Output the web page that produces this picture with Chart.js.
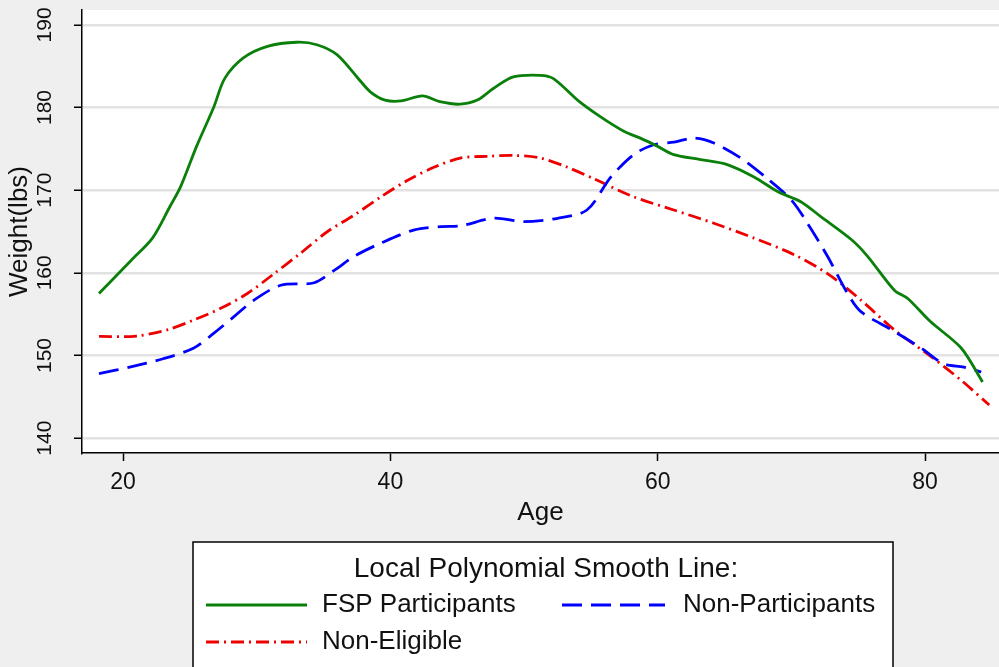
<!DOCTYPE html>
<html>
<head>
<meta charset="utf-8">
<script src="https://cdn.jsdelivr.net/npm/chart.js@4.4.1/dist/chart.umd.min.js"></script>
<style>
  body { margin: 0; background: #efefef; }
  canvas { display: block; }
</style>
</head>
<body>
<canvas id="weight chart" width="999" height="667"></canvas>
<script>
// values
var fspAge = [18.2, 20.6, 22.2, 23.5, 24.3, 25.5, 26.8, 27.6, 29, 30.8, 33, 34.5, 36, 37.5, 38.5, 39.6, 40.8, 42.4, 43.7, 45.2, 46.5, 47.7, 49.2, 51.2, 52.2, 54, 55.7, 57.5, 58.7, 60, 61.2, 63.2, 65.2, 67.2, 69, 70.7, 72.2, 74.5, 75.7, 77.7, 78.7, 80.4, 82.7, 84.3];
var fspWeight = [157.5, 161.5, 164.2, 168, 170.4, 175.3, 180.1, 183.5, 186, 187.4, 187.9, 187.6, 186.4, 183.7, 181.9, 180.9, 180.8, 181.4, 180.7, 180.4, 180.9, 182.3, 183.7, 183.9, 183.5, 180.9, 178.9, 177.1, 176.3, 175.3, 174.3, 173.7, 173.1, 171.6, 169.8, 168.6, 166.8, 164, 162, 157.9, 156.9, 154.1, 150.9, 146.8];

var nonPartAge = [18.2, 20.5, 23, 25.3, 26.8, 28.3, 29.8, 31.8, 34.3, 35.8, 37.3, 39.3, 41.8, 43.8, 45.3, 47.7, 50, 52.5, 54.7, 56.5, 58.2, 59.7, 61.2, 62.7, 64.2, 66.2, 68.2, 70, 71.2, 72.7, 74.2, 75.2, 77.5, 79.7, 81.4, 82.9, 84.2];
var nonPartWeight = [147.8, 148.6, 149.6, 150.9, 152.7, 154.7, 156.7, 158.5, 158.8, 160.3, 162, 163.6, 165.2, 165.6, 165.7, 166.6, 166.2, 166.6, 167.6, 171.6, 174.3, 175.5, 175.8, 176.3, 175.7, 173.9, 171.4, 168.8, 166, 162, 157.5, 155.3, 153.1, 150.9, 149, 148.6, 148];

var nonEligAge = [18.2, 21, 23.3, 25.3, 27.3, 29.3, 31.3, 33.3, 35.3, 37.3, 39.3, 41.3, 43.3, 45.3, 47.3, 49.2, 51.2, 53.2, 55.2, 58.2, 61.2, 64.2, 67.2, 70.2, 72.7, 75.2, 77.7, 80.5, 82.7, 84.8];
var nonEligWeight = [152.3, 152.35, 153.1, 154.3, 155.7, 157.5, 159.9, 162.4, 165, 167, 169.2, 171.2, 172.8, 173.9, 174.1, 174.2, 173.9, 172.8, 171.4, 169.2, 167.6, 166, 164.2, 162.2, 159.9, 156.7, 153.1, 149.8, 147, 144];

var xTicks = [20, 40, 60, 80];
var yTicks = [140, 150, 160, 170, 180, 190];

var legendTitle = 'Local Polynomial Smooth Line:';

function toPoints(xs, ys) {
    return xs.map(function (x, i) { return {x: x, y: ys[i]}; });
}

var regular = '"Liberation Sans", Arial, sans-serif';

// grey page, white plot region
var background = {
    id: 'background',
    beforeDraw: function (chart) {
        var c = chart.ctx, a = chart.chartArea;
        c.save();
        c.fillStyle = '#efefef';
        c.fillRect(0, 0, chart.width, chart.height);
        c.fillStyle = '#ffffff';
        c.fillRect(a.left, a.top, a.right - a.left, a.bottom - a.top);
        c.restore();
    }
};

// Stata style legend box under the plot
var legendBox = {
    id: 'legendBox',
    afterDraw: function (chart) {
        var c = chart.ctx;
        var ds = chart.data.datasets;
        var slots = [
            {x1: 206, x2: 307, tx: 322, y: 605},
            {x1: 562, x2: 665, tx: 683, y: 605},
            {x1: 206, x2: 307, tx: 322, y: 642}
        ];
        c.save();
        c.fillStyle = '#ffffff';
        c.fillRect(193, 542, 700, 140);
        c.strokeStyle = '#000000';
        c.lineWidth = 1.5;
        c.strokeRect(193, 542, 700, 140);

        c.fillStyle = '#111111';
        c.textBaseline = 'middle';
        c.textAlign = 'center';
        c.font = '28px ' + regular;
        c.fillText(legendTitle, 546, 569);

        c.textAlign = 'left';
        c.font = '26px ' + regular;
        ds.forEach(function (d, i) {
            var s = slots[i];
            c.beginPath();
            c.strokeStyle = d.borderColor;
            c.lineWidth = d.borderWidth;
            c.setLineDash(d.borderDash || []);
            c.moveTo(s.x1, s.y);
            c.lineTo(s.x2, s.y);
            c.stroke();
            c.setLineDash([]);
            c.fillStyle = '#111111';
            c.fillText(d.label, s.tx, s.y);
        });
        c.restore();
    }
};

var ctx = document.getElementById('weight chart').getContext('2d');
var myChart = new Chart(ctx, {
    type: 'line',
    data: {
        datasets: [{
            label: 'FSP Participants',
            data: toPoints(fspAge, fspWeight),
            borderColor: '#0a800a',
            borderWidth: 2.8,
            tension: 0.3
        }, {
            label: 'Non-Participants',
            data: toPoints(nonPartAge, nonPartWeight),
            borderColor: '#0000ff',
            borderWidth: 2.8,
            borderDash: [20, 9],
            tension: 0.3
        }, {
            label: 'Non-Eligible',
            data: toPoints(nonEligAge, nonEligWeight),
            borderColor: '#ee0000',
            borderWidth: 2.8,
            borderDash: [13, 5, 2, 5],
            tension: 0.3
        }]
    },
    options: {
        responsive: false,
        animation: false,
        devicePixelRatio: 1,
        elements: { point: { radius: 0 } },
        layout: { padding: { top: 10, right: 0, bottom: 134, left: 0 } },
        plugins: {
            legend: { display: false },
            tooltip: { enabled: false }
        },
        scales: {
            x: {
                type: 'linear',
                min: 16.93,
                max: 85.53,
                afterFit: function (s) { s.height = 80; s.paddingLeft = 0; s.paddingRight = 0; },
                afterBuildTicks: function (s) { s.ticks = xTicks.map(function (v) { return {value: v}; }); },
                grid: { drawOnChartArea: false, drawTicks: true, tickLength: 8, tickColor: '#000000', tickWidth: 1.5 },
                border: { display: true, color: '#000000', width: 1.5 },
                ticks: { color: '#111111', padding: 8, maxRotation: 0, font: { family: regular, size: 23 } },
                title: { display: true, text: 'Age', color: '#111111', padding: { top: 0, bottom: 5 }, font: { family: regular, size: 26 } }
            },
            y: {
                min: 138.2,
                max: 191.8,
                afterFit: function (s) { s.width = 82; s.paddingTop = 0; s.paddingBottom = 0; },
                afterBuildTicks: function (s) { s.ticks = yTicks.map(function (v) { return {value: v}; }); },
                grid: { color: '#e2e2e2', lineWidth: 2.5, drawTicks: true, tickLength: 8, tickColor: '#000000', tickWidth: 1.5 },
                border: { display: true, color: '#000000', width: 1.5 },
                ticks: { color: '#111111', padding: 11, minRotation: 90, maxRotation: 90, crossAlign: 'center', font: { family: regular, size: 21 } },
                title: { display: true, text: 'Weight(lbs)', color: '#111111', padding: { top: 4, bottom: 0 }, font: { family: regular, size: 26 } }
            }
        }
    },
    plugins: [background, legendBox]
});
</script>
</body>
</html>
